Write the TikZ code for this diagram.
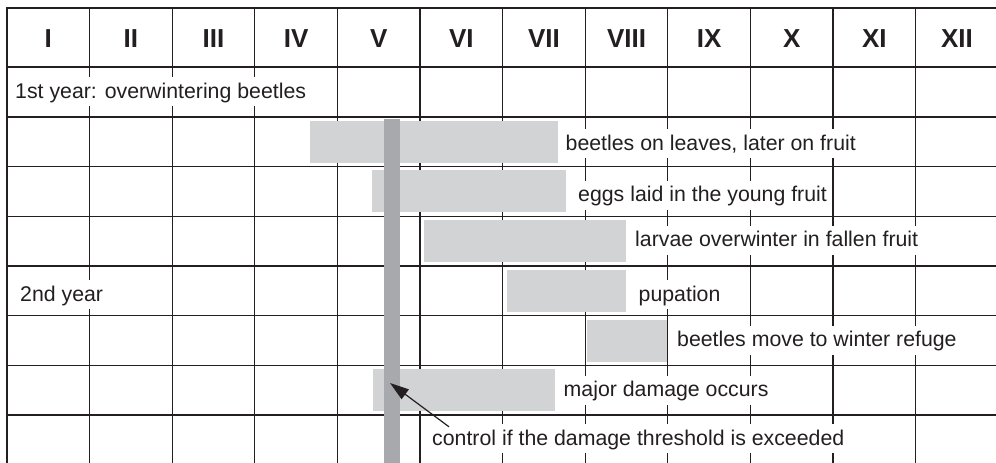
\documentclass[tikz,border=0pt]{standalone}
\usepackage{fontspec}
\setmainfont{Liberation Sans}
\usetikzlibrary{arrows.meta}
\definecolor{ink}{HTML}{231F20}
\definecolor{lightbar}{HTML}{D1D3D4}
\definecolor{darkbar}{HTML}{A7A9AC}
\begin{document}
\begin{tikzpicture}[x=1pt,y=-1pt,
  border/.style={draw=ink,line width=2.6pt},
  hline/.style={draw=ink,line width=1.6pt},
  vline/.style={draw=ink,line width=1.3pt},
  lbar/.style={fill=lightbar},
  dbar/.style={fill=darkbar},
  hdr/.style={anchor=base,inner sep=0pt,text=ink,font=\fontsize{26}{30}\selectfont\bfseries},
  lbl/.style={anchor=base west,fill=white,text=ink,inner xsep=2pt,inner ysep=1pt,
    text height=20pt,text depth=7pt,font=\fontsize{21.3}{25}\selectfont},
  arr/.style={draw=ink,line width=1.2pt,-{Triangle[length=19pt,width=12pt]}}]
\useasboundingbox (0,0) rectangle (996,463);
\clip (0,0) rectangle (996,463);
% grid
\foreach \k in {1,...,11}
  \draw[vline] ({7+82.6*\k},8) -- ({7+82.6*\k},470);
\foreach \i in {1,...,7}
  \draw[hline] (7,{117+49.67*(\i-1)}) -- (1000,{117+49.67*(\i-1)});
\draw[border] (7,470) -- (7,8) -- (1000,8);
\draw[border] (7,67) -- (1000,67);
% bars
\fill[lbar] (310,121) rectangle (558,163);
\fill[lbar] (372,170) rectangle (566,212);
\fill[lbar] (424,220) rectangle (626,262);
\fill[lbar] (507,270) rectangle (626,312);
\fill[lbar] (587,320) rectangle (667,362);
\fill[lbar] (373,369) rectangle (555,411);
\fill[dbar] (384,119) rectangle (400,470);
% header
\foreach \r [count=\i] in {I,II,III,IV,V,VI,VII,VIII,IX,X,XI,XII}
  \node[hdr] (h\i) at ({7+82.6*(\i-0.5)},47.7) {\r};
% labels
\node[lbl] (yr1) at (13,98.3) {1st year: overwintering beetles};
\node[lbl] (yr2) at (18,301) {2nd year};
\node[lbl] (leaves) at (563.5,150) {beetles on leaves, later on fruit};
\node[lbl] (eggs) at (576,201.7) {eggs laid in the young fruit};
\node[lbl] (larvae) at (633,246.7) {larvae overwinter in fallen fruit};
\node[lbl] (pupa) at (636.5,301) {pupation};
\node[lbl] (refuge) at (675,346.7) {beetles move to winter refuge};
\node[lbl] (damage) at (561.5,396.7) {major damage occurs};
\node[lbl] (ctl) at (430,445) {control if the damage threshold is exceeded};
% arrow
\coordinate (tip) at (390,383);
\draw[arr] ([shift={(19,3)}]ctl.north west) -- (tip);
\end{tikzpicture}
\end{document}
